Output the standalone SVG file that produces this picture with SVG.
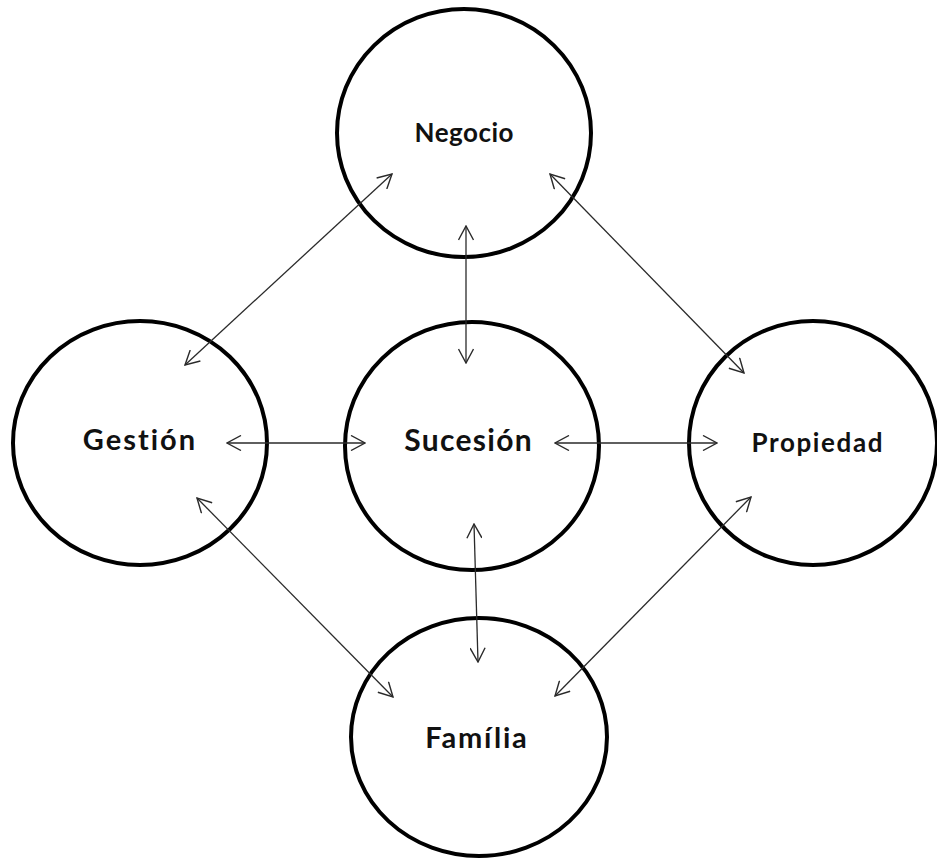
<svg xmlns="http://www.w3.org/2000/svg" width="937" height="858" viewBox="0 0 937 858">
<style>
.node ellipse{fill:#fff;stroke:#000;stroke-width:4}
.node text{font-family:Lato,"Open Sans","Liberation Sans",sans-serif;font-weight:bold;fill:#111;text-anchor:middle}
#connectors line{stroke:#2a2a2a;stroke-width:1.3;fill:none;marker-start:url(#arr);marker-end:url(#arr)}
</style>
<defs>
<marker id="arr" viewBox="0 0 16 16" refX="15" refY="8" markerWidth="16" markerHeight="16" markerUnits="userSpaceOnUse" orient="auto-start-reverse">
<path d="M1,0.5 L15,8 L1,15.5" fill="none" stroke="#2a2a2a" stroke-width="1.4"/>
</marker>
</defs>
<rect width="937" height="858" fill="#fff"/>
<g id="negocio" class="node"><ellipse cx="464" cy="133" rx="127" ry="124"/><text x="464.3" y="142" font-size="26" letter-spacing="0.5">Negocio</text></g>
<g id="gestion" class="node"><ellipse cx="140" cy="443" rx="127" ry="122"/><text x="140" y="450" font-size="29" letter-spacing="2">Gestión</text></g>
<g id="sucesion" class="node"><ellipse cx="472" cy="446" rx="127" ry="124"/><text x="468.6" y="451" font-size="30" letter-spacing="1.3">Sucesión</text></g>
<g id="propiedad" class="node"><ellipse cx="813" cy="443" rx="124" ry="122"/><text x="817.8" y="452" font-size="26" letter-spacing="1.6">Propiedad</text></g>
<g id="familia" class="node"><ellipse cx="479" cy="737" rx="128" ry="119"/><text x="476.9" y="748" font-size="29" letter-spacing="1.8">Família</text></g>
<g id="connectors">
<line x1="392" y1="174" x2="185" y2="365"/>
<line x1="466" y1="226" x2="466" y2="363"/>
<line x1="550" y1="174" x2="744" y2="373"/>
<line x1="227" y1="443" x2="365" y2="443"/>
<line x1="555" y1="443" x2="717" y2="443"/>
<line x1="197" y1="498" x2="393" y2="697"/>
<line x1="474" y1="524" x2="478" y2="662"/>
<line x1="751" y1="497" x2="555" y2="696"/>
</g>
</svg>
